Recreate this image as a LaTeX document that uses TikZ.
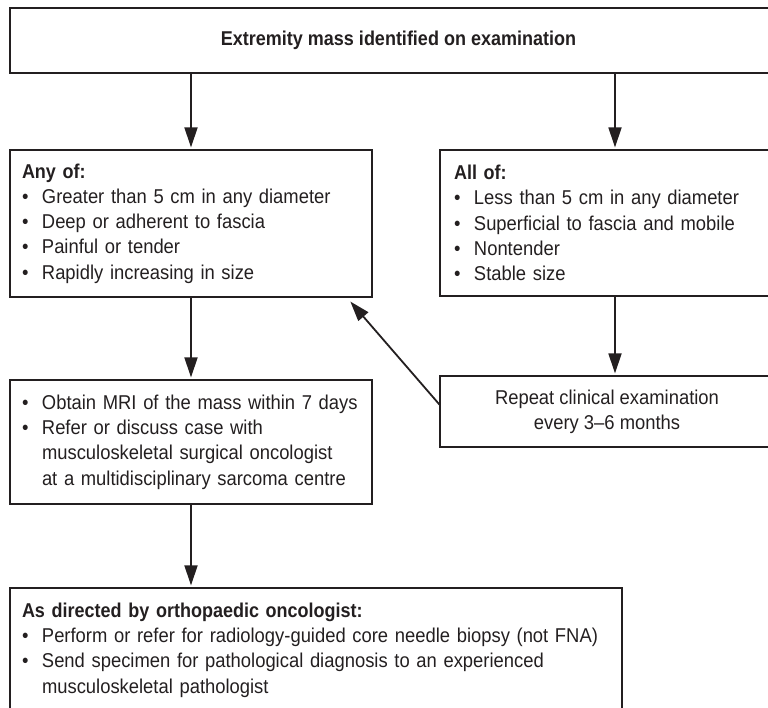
\documentclass[tikz,border=0pt]{standalone}
\usepackage{fontspec}
\setmainfont{Liberation Sans}[FakeStretch=0.92, BoldFeatures={FakeStretch=0.90}]
\usepackage{tikz}
\usetikzlibrary{arrows.meta}

\definecolor{ink}{RGB}{35,31,32}
\newcommand{\bul}{\makebox[20pt][l]{\textbullet}}
\newcommand{\ind}{\hspace*{20pt}}

\tikzset{
  box/.style={draw=ink, line width=1.2pt, text=ink, inner xsep=12pt, inner ysep=0pt,
    font=\fontsize{20}{25.3}\selectfont, align=left},
  arr/.style={-{Triangle[width=13pt,length=20pt]}, draw=ink, line width=1.8pt, shorten >=2pt},
}

\begin{document}
\begin{tikzpicture}[x=1pt,y=-1pt]
  \useasboundingbox (0,0) rectangle (768,707);
  \clip (0,0) rectangle (768,707);

  \draw (398.5,40.5) node[box, align=center, minimum width=777pt, minimum height=65pt] (mass)
    {\textbf{Extremity mass identified on examination}};

  \draw (191,223.5) node[box, text width=338pt, minimum height=147pt] (anyof)
    {\textbf{Any of:}\\
     \bul Greater than 5 cm in any diameter\\
     \bul Deep or adherent to fascia\\
     \bul Painful or tender\\
     \bul Rapidly increasing in size};
  \draw (615,223) node[box, inner xsep=14pt, text width=322pt, minimum height=146pt] (allof)
    {\textbf{All of:}\\
     \bul Less than 5 cm in any diameter\\
     \bul Superficial to fascia and mobile\\
     \bul Nontender\\
     \bul Stable size};

  \draw (191,442) node[box, text width=338pt, minimum height=124pt] (mri)
    {\bul Obtain MRI of the mass within 7 days\\
     \bul Refer or discuss case with\\
     \ind musculoskeletal surgical oncologist\\
     \ind at a multidisciplinary sarcoma centre};
  \draw (607,411.5) node[box, align=center, minimum width=334pt, minimum height=71pt] (repeat)
    {Repeat clinical examination\\every 3--6 months};

  \draw (316,650) node[box, text width=588pt, minimum height=124pt] (biopsy)
    {\textbf{As directed by orthopaedic oncologist:}\\
     \bul Perform or refer for radiology-guided core needle biopsy (not FNA)\\
     \bul Send specimen for pathological diagnosis to an experienced\\
     \ind musculoskeletal pathologist};

  \coordinate (back) at (349,300);

  \path (mass.south -| anyof.north) edge[arr] (anyof.north);
  \path (mass.south -| allof.north) edge[arr] (allof.north);
  \path (anyof.south) edge[arr] (mri.north);
  \path (allof.south) edge[arr] (repeat.north -| allof.south);
  \path ([yshift=7pt]repeat.west) edge[arr] (back);
  \path (mri.south) edge[arr] (biopsy.north -| mri.south);

\end{tikzpicture}
\end{document}
